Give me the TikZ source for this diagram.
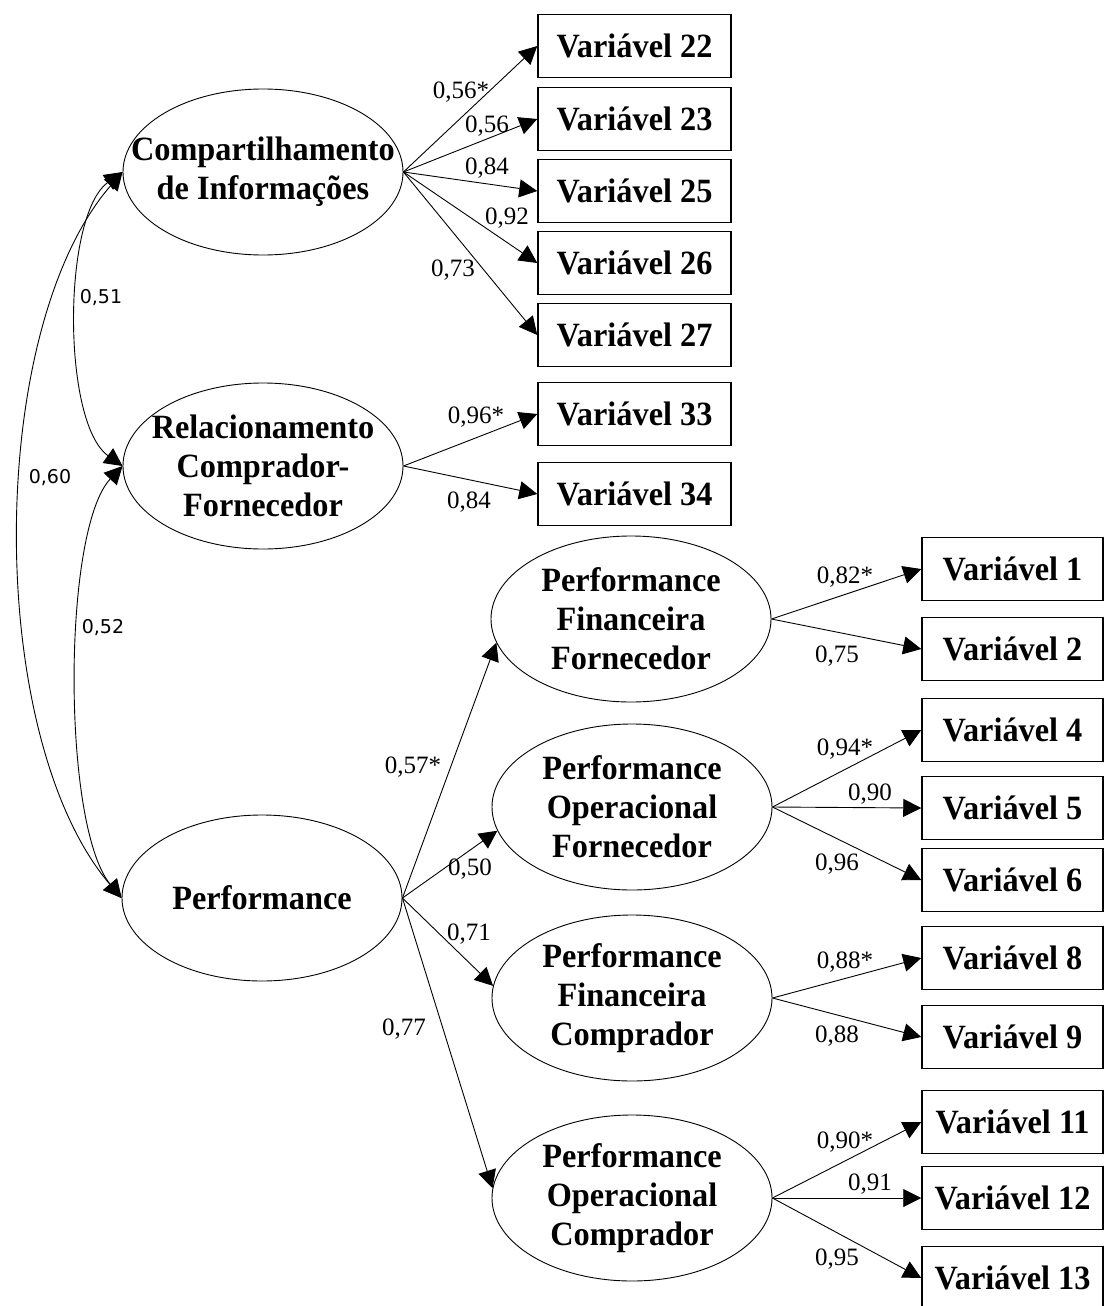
\documentclass[tikz,border=0pt]{standalone}
\usepackage{fontspec}
\setmainfont{Liberation Serif}
\newfontfamily\sansf{DejaVu Sans}
\newfontfamily\hdfont[FakeStretch=0.95]{Liberation Serif}
\usetikzlibrary{shapes.geometric,arrows.meta}
\begin{document}
\begin{tikzpicture}[x=1pt,y=-1pt,
  lat/.style={ellipse,draw,line width=0.9pt,minimum width=280pt,minimum height=166pt,inner sep=0pt},
  lattxt/.style={align=center,font=\hdfont\fontsize{34}{39}\selectfont\bfseries,inner sep=0pt},
  obsA/.style={draw,line width=1.5pt,minimum width=193pt,minimum height=63pt,inner sep=0pt,font=\hdfont\fontsize{34}{39}\selectfont\bfseries},
  obsB/.style={obsA,minimum width=181pt},
  lnk/.style={line width=0.9pt,-{Triangle[length=18pt,width=18pt]}},
  cor/.style={line width=0.9pt,{Triangle[length=18pt,width=18pt]}-{Triangle[length=18pt,width=18pt]}},
  coef/.style={font=\fontsize{25}{30}\selectfont,inner sep=0pt},
  coefs/.style={font=\sansf\fontsize{19}{23}\selectfont,inner sep=0pt}]
\useasboundingbox[fill=white] (0,0) rectangle (1104,1306);

% latent variables
\node[lat] (comp) at (263,172) {};
\node[lattxt] (compT) at (comp) {Compartilhamento\\de Informações};
\node[lat] (rel) at (263,466) {};
\node[lattxt] (relT) at (rel) {Relacionamento\\Comprador-\\Fornecedor};
\node[lat] (perf) at (262,898) {};
\node[lattxt] (perfT) at (perf) {Performance};
\node[lat] (pff) at (631,619) {};
\node[lattxt] (pffT) at (pff) {Performance\\Financeira\\Fornecedor};
\node[lat] (pof) at (632,807) {};
\node[lattxt] (pofT) at (pof) {Performance\\Operacional\\Fornecedor};
\node[lat] (pfc) at (632,998) {};
\node[lattxt] (pfcT) at (pfc) {Performance\\Financeira\\Comprador};
\node[lat] (poc) at (632,1198) {};
\node[lattxt] (pocT) at (poc) {Performance\\Operacional\\Comprador};

% observed variables, top group
\node[obsA] (v22) at (634.5,46) {Variável 22};
\node[obsA] (v23) at (634.5,119) {Variável 23};
\node[obsA] (v25) at (634.5,191) {Variável 25};
\node[obsA] (v26) at (634.5,263) {Variável 26};
\node[obsA] (v27) at (634.5,335) {Variável 27};
\node[obsA] (v33) at (634.5,414) {Variável 33};
\node[obsA] (v34) at (634.5,494) {Variável 34};

% observed variables, right group
\node[obsB] (v1) at (1012.5,569) {Variável 1};
\node[obsB] (v2) at (1012.5,649) {Variável 2};
\node[obsB] (v4) at (1012.5,730) {Variável 4};
\node[obsB] (v5) at (1012.5,808) {Variável 5};
\node[obsB] (v6) at (1012.5,880) {Variável 6};
\node[obsB] (v8) at (1012.5,958) {Variável 8};
\node[obsB] (v9) at (1012.5,1037) {Variável 9};
\node[obsB] (v11) at (1012.5,1122) {Variável 11};
\node[obsB] (v12) at (1012.5,1198) {Variável 12};
\node[obsB] (v13) at (1012.5,1278) {Variável 13};

% loadings
\draw[lnk] (comp.east) -- (v22.west);
\draw[lnk] (comp.east) -- (v23.west);
\draw[lnk] (comp.east) -- (v25.west);
\draw[lnk] (comp.east) -- (v26.west);
\draw[lnk] (comp.east) -- (v27.west);
\draw[lnk] (rel.east) -- (v33.west);
\draw[lnk] (rel.east) -- (v34.west);

\draw[lnk] (perf.east) -- (pff.190);
\draw[lnk] (perf.east) -- (pof.190);
\draw[lnk] (perf.east) -- (pfc.175);
\draw[lnk] (perf.east) -- (poc.176);

\draw[lnk] (pff.east) -- (v1.west);
\draw[lnk] (pff.east) -- (v2.west);
\draw[lnk] (pof.east) -- (v4.west);
\draw[lnk] (pof.east) -- (v5.west);
\draw[lnk] (pof.east) -- (v6.west);
\draw[lnk] (pfc.east) -- (v8.west);
\draw[lnk] (pfc.east) -- (v9.west);
\draw[lnk] (poc.east) -- (v11.west);
\draw[lnk] (poc.east) -- (v12.west);
\draw[lnk] (poc.east) -- (v13.west);

% correlations
\draw[cor] (comp.west) .. controls (62,215) and (62,423) .. (rel.west);
\draw[cor] (rel.west) .. controls (62,530) and (62,826) .. (perf.west);
\draw[cor] (comp.west) .. controls (-15,330) and (-15,738) .. (perf.west);

% coefficient labels
\node[coef] (c22) at (461,92) {0,56*};
\node[coef] (c23) at (487,126) {0,56};
\node[coef] (c25) at (487,168) {0,84};
\node[coef] (c26) at (507,218) {0,92};
\node[coef] (c27) at (453,270) {0,73};
\node[coef] (c33) at (476,417) {0,96*};
\node[coef] (c34) at (469,502) {0,84};
\node[coef] (cpff) at (413,767) {0,57*};
\node[coef] (cpof) at (470,869) {0,50};
\node[coef] (cpfc) at (469,934) {0,71};
\node[coef] (cpoc) at (404,1029) {0,77};
\node[coef] (c1) at (845,577) {0,82*};
\node[coef] (c2) at (837,656) {0,75};
\node[coef] (c4) at (845,749) {0,94*};
\node[coef] (c5) at (870,794) {0,90};
\node[coef] (c6) at (837,864) {0,96};
\node[coef] (c8) at (845,962) {0,88*};
\node[coef] (c9) at (837,1036) {0,88};
\node[coef] (c11) at (845,1142) {0,90*};
\node[coef] (c12) at (870,1184) {0,91};
\node[coef] (c13) at (837,1259) {0,95};
\node[coefs] (r51) at (101,298) {0,51};
\node[coefs] (r60) at (50,478) {0,60};
\node[coefs] (r52) at (103,628) {0,52};
\end{tikzpicture}
\end{document}
